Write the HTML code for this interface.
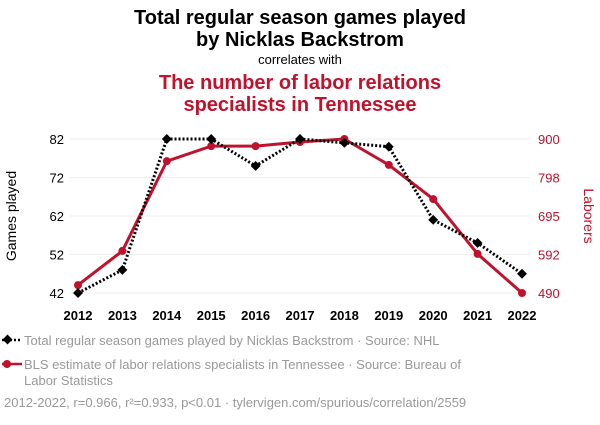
<!DOCTYPE html>
<html><head><meta charset="utf-8"><style>
body{margin:0;background:#fff;font-family:"Liberation Sans",sans-serif}
</style></head><body>
<svg width="600" height="420" viewBox="0 0 600 420" xmlns="http://www.w3.org/2000/svg">
<text x="300" y="24" text-anchor="middle" font-size="20" font-weight="bold" fill="#000">Total regular season games played</text>
<text x="300" y="46" text-anchor="middle" font-size="20" font-weight="bold" fill="#000">by Nicklas Backstrom</text>
<text x="300" y="64" text-anchor="middle" font-size="13" fill="#000">correlates with</text>
<text x="300" y="89" text-anchor="middle" font-size="20" font-weight="bold" fill="#c0122c">The number of labor relations</text>
<text x="300" y="111" text-anchor="middle" font-size="20" font-weight="bold" fill="#c0122c">specialists in Tennessee</text>
<g id="grid"></g><g id="axes"></g><g id="marks"></g>
<text transform="translate(16,216) rotate(-90)" text-anchor="middle" font-size="14" fill="#000">Games played</text>
<text transform="translate(584,216) rotate(90)" text-anchor="middle" font-size="14" fill="#c0122c">Laborers</text>
<g>
<line x1="2" y1="340" x2="22" y2="340" stroke="#000" stroke-width="2.5" stroke-dasharray="2,2"/>
<rect x="4" y="336" width="7" height="7" transform="rotate(45 7.5 339.5)" fill="#000"/>
<text x="24" y="345" font-size="13" fill="#999">Total regular season games played by Nicklas Backstrom · Source: NHL</text></g>
<g>
<line x1="2" y1="364" x2="22" y2="364" stroke="#c0122c" stroke-width="2.5"/>
<circle cx="7" cy="364" r="4" fill="#c0122c"/>
<text x="24" y="369" font-size="13" fill="#999">BLS estimate of labor relations specialists in Tennessee · Source: Bureau of</text>
<text x="24" y="385" font-size="13" fill="#999">Labor Statistics</text></g>
<text x="4" y="407" font-size="13" fill="#999">2012-2022, r=0.966, r²=0.933, p&lt;0.01 · tylervigen.com/spurious/correlation/2559</text>
</svg>
<script>
const years=[2012,2013,2014,2015,2016,2017,2018,2019,2020,2021,2022];
const games=[42,48,82,82,75,82,81,80,61,55,47];
const laborers=[511,602,841,881,881,892,900,831,740,594,490];
const leftTicks=[42,52,62,72,82];
const rightTicks=[490,592,695,798,900];
const NS="http://www.w3.org/2000/svg";
const x=y=>78+(y-2012)*44.4;
const yl=v=>293-(v-42)/40*154;
const yr=v=>293-(v-490)/410*154;
function mk(t,a,p){const e=document.createElementNS(NS,t);for(const k in a)e.setAttribute(k,a[k]);p.appendChild(e);return e;}
const grid=document.getElementById('grid'),axes=document.getElementById('axes'),marks=document.getElementById('marks');
leftTicks.forEach((v,i)=>{
 const g=mk('line',{x1:70,x2:530,y1:yl(v),y2:yl(v),stroke:'#eee','stroke-width':1},grid);
 
 
 const t=mk('text',{x:64,y:yl(v)+5,'text-anchor':'end','font-size':13,fill:'#000'},axes);t.textContent=v;
 
 
});
rightTicks.forEach(v=>{
 const t=mk('text',{x:538,y:yr(v)+5,'font-size':13,fill:'#c0122c'},axes);t.textContent=v;
 
 
});
years.forEach(y=>{
 const t=mk('text',{x:x(y),y:320,'text-anchor':'middle','font-size':13,'font-weight':'bold',fill:'#000'},axes);t.textContent=y;
 
 
});
const rl=mk('polyline',{points:years.map((y,i)=>x(y)+','+yr(laborers[i])).join(' '),fill:'none',stroke:'#c0122c','stroke-width':3},marks);


years.forEach((y,i)=>{const c=mk('circle',{cx:x(y),cy:yr(laborers[i]),r:4,fill:'#c0122c'},marks);
 
 });
const bl=mk('polyline',{points:years.map((y,i)=>x(y)+','+yl(games[i])).join(' '),fill:'none',stroke:'#000','stroke-width':3,'stroke-dasharray':'2,2'},marks);


years.forEach((y,i)=>{const cx=x(y),cy=yl(games[i]);
 const d=mk('rect',{x:cx-3.5,y:cy-3.5,width:7,height:7,fill:'#000',transform:`rotate(45 ${cx} ${cy})`},marks);
 
 });
</script>
</body></html>
